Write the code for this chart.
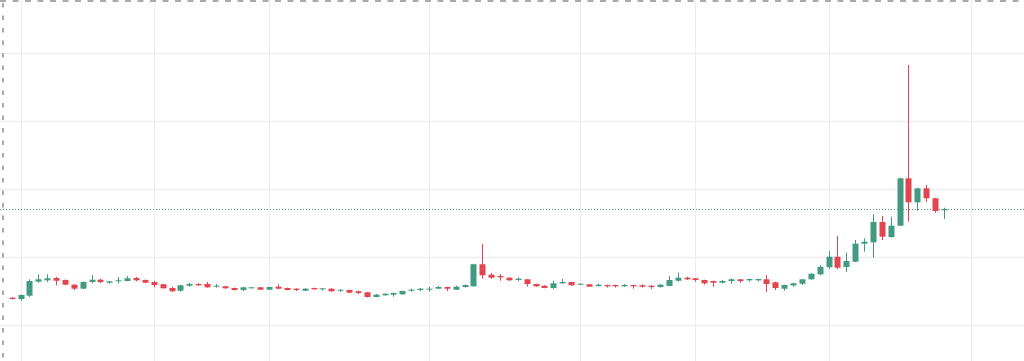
<!DOCTYPE html>
<html>
<head>
<meta charset="utf-8">
<script src="https://cdn.jsdelivr.net/npm/d3@7"></script>
<style>
  body { margin: 0; background: #fff; }
  svg { display: block; }
</style>
</head>
<body>
<div id="chart"></div>
<script>
// one candle per bar index, prices
const open = [
  1.401, 1.382, 1.431, 1.637, 1.657, 1.691, 1.662, 1.593, 1.534, 1.632,
  1.666, 1.622, 1.647, 1.647, 1.691, 1.662, 1.632, 1.599, 1.544, 1.504,
  1.578, 1.603, 1.603, 1.569, 1.569, 1.544, 1.515, 1.544, 1.554, 1.519,
  1.563, 1.544, 1.534, 1.504, 1.544, 1.525, 1.534, 1.510, 1.515, 1.496,
  1.481, 1.412, 1.437, 1.446, 1.451, 1.504, 1.515, 1.519, 1.534, 1.559,
  1.519, 1.559, 1.569, 1.893, 1.740, 1.721, 1.696, 1.662, 1.672, 1.603,
  1.578, 1.544, 1.613, 1.632, 1.593, 1.599, 1.574, 1.588, 1.588, 1.569,
  1.588, 1.584, 1.578, 1.559, 1.574, 1.651, 1.696, 1.687, 1.662, 1.647,
  1.622, 1.647, 1.672, 1.657, 1.657, 1.672, 1.628, 1.534, 1.581, 1.607,
  1.672, 1.746, 1.849, 2.004, 1.853, 1.931, 2.196, 2.216, 2.515, 2.294,
  2.460, 3.157, 2.804, 3.010, 2.863, 2.687
]
const high = [
  1.409, 1.449, 1.672, 1.746, 1.746, 1.710, 1.669, 1.600, 1.640, 1.735,
  1.681, 1.647, 1.706, 1.721, 1.706, 1.669, 1.651, 1.603, 1.563, 1.593,
  1.618, 1.613, 1.632, 1.603, 1.576, 1.551, 1.563, 1.559, 1.559, 1.563,
  1.599, 1.549, 1.540, 1.540, 1.549, 1.544, 1.540, 1.525, 1.519, 1.504,
  1.485, 1.456, 1.466, 1.475, 1.504, 1.534, 1.544, 1.563, 1.578, 1.563,
  1.578, 1.593, 1.901, 2.191, 1.765, 1.750, 1.701, 1.701, 1.676, 1.607,
  1.584, 1.651, 1.676, 1.637, 1.613, 1.603, 1.607, 1.593, 1.592, 1.603,
  1.593, 1.599, 1.584, 1.599, 1.721, 1.769, 1.710, 1.691, 1.666, 1.651,
  1.662, 1.687, 1.676, 1.681, 1.681, 1.731, 1.637, 1.593, 1.622, 1.676,
  1.760, 1.878, 2.084, 2.309, 2.063, 2.250, 2.275, 2.628, 2.603, 2.593,
  3.166, 4.824, 3.019, 3.059, 2.872, 2.725
]
const low = [
  1.375, 1.357, 1.412, 1.622, 1.632, 1.584, 1.585, 1.515, 1.526, 1.613,
  1.618, 1.607, 1.607, 1.643, 1.643, 1.613, 1.554, 1.534, 1.485, 1.490,
  1.563, 1.574, 1.549, 1.549, 1.532, 1.507, 1.500, 1.540, 1.515, 1.515,
  1.525, 1.510, 1.500, 1.500, 1.519, 1.504, 1.490, 1.485, 1.471, 1.451,
  1.404, 1.407, 1.431, 1.416, 1.446, 1.490, 1.500, 1.490, 1.529, 1.500,
  1.515, 1.549, 1.563, 1.681, 1.681, 1.651, 1.651, 1.647, 1.563, 1.563,
  1.540, 1.525, 1.607, 1.578, 1.588, 1.559, 1.563, 1.549, 1.550, 1.559,
  1.534, 1.549, 1.529, 1.549, 1.569, 1.637, 1.662, 1.637, 1.593, 1.563,
  1.613, 1.607, 1.622, 1.637, 1.643, 1.485, 1.515, 1.504, 1.563, 1.588,
  1.666, 1.731, 1.819, 1.819, 1.779, 1.926, 2.078, 1.990, 2.250, 2.284,
  2.456, 2.519, 2.681, 2.813, 2.651, 2.559
]
const close = [
  1.382, 1.441, 1.647, 1.672, 1.687, 1.651, 1.593, 1.534, 1.632, 1.666,
  1.632, 1.643, 1.657, 1.687, 1.657, 1.622, 1.588, 1.540, 1.496, 1.584,
  1.603, 1.584, 1.554, 1.578, 1.540, 1.515, 1.554, 1.554, 1.519, 1.559,
  1.534, 1.515, 1.515, 1.534, 1.525, 1.540, 1.496, 1.519, 1.475, 1.471,
  1.412, 1.446, 1.460, 1.471, 1.500, 1.519, 1.534, 1.534, 1.559, 1.534,
  1.563, 1.588, 1.893, 1.731, 1.696, 1.701, 1.657, 1.681, 1.603, 1.569,
  1.544, 1.613, 1.632, 1.584, 1.607, 1.563, 1.593, 1.569, 1.569, 1.588,
  1.569, 1.563, 1.559, 1.593, 1.662, 1.696, 1.672, 1.662, 1.613, 1.622,
  1.647, 1.672, 1.647, 1.676, 1.676, 1.603, 1.544, 1.588, 1.613, 1.672,
  1.754, 1.857, 2.004, 1.843, 1.941, 2.196, 2.225, 2.515, 2.299, 2.460,
  3.157, 2.804, 3.010, 2.863, 2.676, 2.706
]

// price grid and time grid (bar index of each period start)
const priceTicks = [1, 2, 3, 4, 5]
const timeTicks = [1, 16, 29, 47, 64, 77, 92, 108]

const upColor = '#429a80'
const downColor = '#e2454f'

const width = 1024
const height = 361

const candles = open.map((o, i) => ({
  i: i,
  open: o,
  high: high[i],
  low: low[i],
  close: close[i]
}))

const svg = d3
  .select('#chart')
  .append('svg')
  .attr('width', width)
  .attr('height', height)

const xPositionScale = d3
  .scaleLinear()
  .domain([0, candles.length - 1])
  .range([11.7, 944])

const yPositionScale = d3
  .scaleLinear()
  .domain([1, 5])
  .range([325, 53])

// grid
svg
  .selectAll('.h-grid')
  .data(priceTicks)
  .enter()
  .append('line')
  .attr('class', 'h-grid')
  .attr('x1', 0)
  .attr('x2', width)
  .attr('y1', d => Math.round(yPositionScale(d)) + 0.5)
  .attr('y2', d => Math.round(yPositionScale(d)) + 0.5)
  .attr('stroke', '#efefef')
  .attr('stroke-width', 1.5)

svg
  .selectAll('.v-grid')
  .data(timeTicks)
  .enter()
  .append('line')
  .attr('class', 'v-grid')
  .attr('x1', d => Math.round(xPositionScale(d)) + 0.5)
  .attr('x2', d => Math.round(xPositionScale(d)) + 0.5)
  .attr('y1', 0)
  .attr('y2', height)
  .attr('stroke', '#ededed')
  .attr('stroke-width', 1)

// dashed frame on top and left
svg
  .append('line')
  .attr('x1', 0)
  .attr('x2', width)
  .attr('y1', 1)
  .attr('y2', 1)
  .attr('stroke', '#aaaaaa')
  .attr('stroke-width', 2)
  .attr('stroke-dasharray', '6,6.5')

svg
  .append('line')
  .attr('x1', 3)
  .attr('x2', 3)
  .attr('y1', 3)
  .attr('y2', height)
  .attr('stroke', '#aaaaaa')
  .attr('stroke-width', 2)
  .attr('stroke-dasharray', '4.5,8')

// last price line
const last = candles[candles.length - 1]
svg
  .append('line')
  .attr('class', 'last-price')
  .attr('x1', 0)
  .attr('x2', width)
  .attr('y1', Math.round(yPositionScale(last.close)) + 0.5)
  .attr('y2', Math.round(yPositionScale(last.close)) + 0.5)
  .attr('stroke', last.close >= last.open ? upColor : downColor)
  .attr('stroke-width', 1)
  .attr('stroke-dasharray', '1,2')

const color = d => (d.close >= d.open ? upColor : downColor)
const bodyWidth = 6

const candle = svg
  .selectAll('.candle')
  .data(candles)
  .enter()
  .append('g')
  .attr('class', 'candle')

candle
  .append('line')
  .attr('x1', d => Math.round(xPositionScale(d.i)) + 0.5)
  .attr('x2', d => Math.round(xPositionScale(d.i)) + 0.5)
  .attr('y1', d => yPositionScale(d.high))
  .attr('y2', d => yPositionScale(d.low))
  .attr('stroke', color)
  .attr('stroke-width', 1)

candle
  .append('rect')
  .attr('x', d => Math.round(xPositionScale(d.i)) + 0.5 - bodyWidth / 2)
  .attr('y', d => yPositionScale(Math.max(d.open, d.close)))
  .attr('width', bodyWidth)
  .attr('height', d =>
    Math.max(1, Math.abs(yPositionScale(d.open) - yPositionScale(d.close)))
  )
  .attr('fill', color)
</script>
</body>
</html>
